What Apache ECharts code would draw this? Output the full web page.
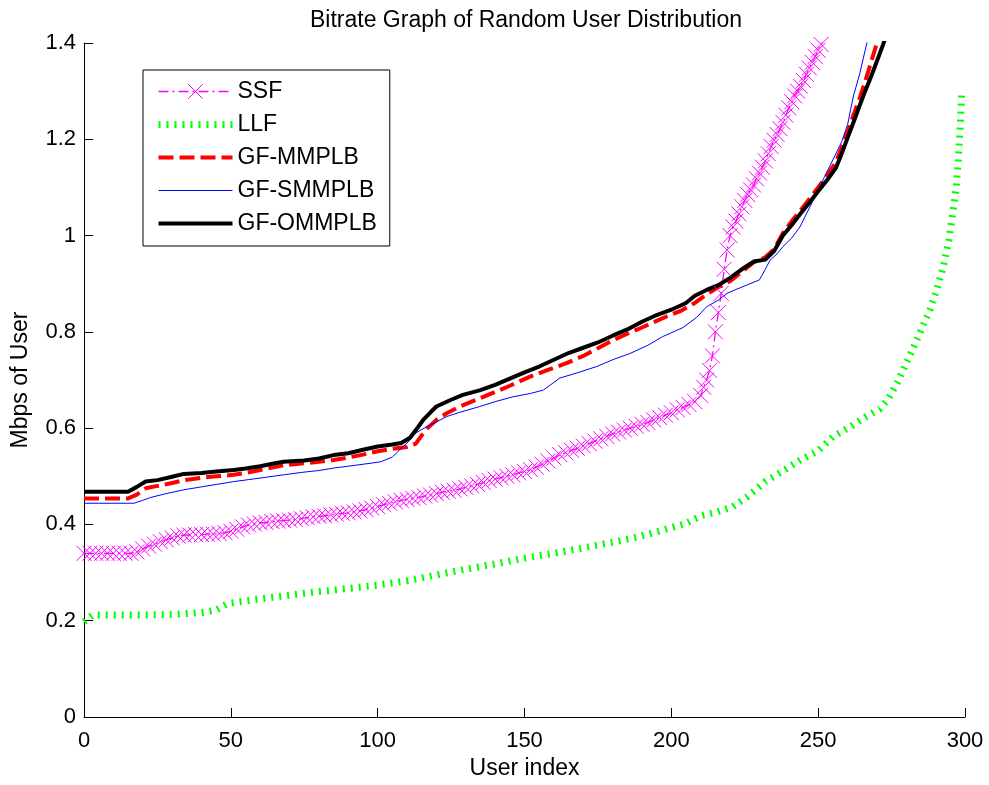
<!DOCTYPE html>
<html><head><meta charset="utf-8">
<script src="https://cdn.jsdelivr.net/npm/echarts@6/dist/echarts.min.js"></script>
<style>html,body{margin:0;padding:0;background:#fff}#c{width:989px;height:785px}</style>
</head><body><div id="c"></div>
<script>
const titleText = 'Bitrate Graph of Random User Distribution';
const xAxisName = 'User index';
const yAxisName = 'Mbps of User';
const seriesNames = ['SSF', 'LLF', 'GF-MMPLB', 'GF-SMMPLB', 'GF-OMMPLB'];
const xTicks = [0, 50, 100, 150, 200, 250, 300];
const yTicks = [0, 0.2, 0.4, 0.6, 0.8, 1, 1.2, 1.4];

// SSF
const ssfX = [0,2,4,6,8,10,12,14,16,18,20,22,24,26,28,30,32,34,36,38,40,42,44,46,48,50,52,54,56,58,60,62,64,66,68,70,72,74,76,78,80,82,84,86,88,90,92,94,96,98,100,102,104,106,108,110,112,114,116,118,120,122,124,126,128,130,132,134,136,138,140,142,144,146,148,150,152,154,156,158,160,162,164,166,168,170,172,174,176,178,180,182,184,186,188,190,192,194,196,198,200,202,204,206,208,210,211,212,213,214,215,216,217,218,219,220,221,222,223,224,225,226,227,228,229,230,231,232,233,234,235,236,237,238,239,240,241,242,243,244,245,246,247,248,249,250,251,252,253,254];
const ssfY = [0.340,0.340,0.340,0.340,0.340,0.340,0.340,0.340,0.340,0.343,0.349,0.355,0.359,0.364,0.368,0.372,0.376,0.378,0.378,0.379,0.379,0.380,0.380,0.381,0.383,0.386,0.390,0.395,0.399,0.401,0.403,0.404,0.406,0.407,0.408,0.409,0.410,0.412,0.414,0.416,0.417,0.418,0.420,0.421,0.423,0.424,0.426,0.428,0.431,0.434,0.437,0.441,0.444,0.447,0.450,0.452,0.454,0.456,0.459,0.461,0.464,0.467,0.469,0.471,0.474,0.477,0.480,0.483,0.487,0.491,0.494,0.497,0.500,0.503,0.507,0.510,0.514,0.519,0.525,0.532,0.538,0.545,0.549,0.554,0.558,0.563,0.568,0.573,0.578,0.583,0.588,0.592,0.596,0.600,0.604,0.608,0.612,0.617,0.622,0.627,0.632,0.638,0.643,0.649,0.655,0.668,0.685,0.700,0.720,0.750,0.800,0.840,0.880,0.930,0.970,1.000,1.018,1.030,1.045,1.060,1.073,1.085,1.095,1.105,1.118,1.130,1.142,1.155,1.170,1.185,1.198,1.210,1.222,1.235,1.250,1.265,1.278,1.290,1.300,1.310,1.322,1.335,1.348,1.360,1.372,1.385,1.397,1.410,1.425,1.440];

// LLF
const llfX = [0,3,10,20,30,40,45,49,55,62,70,79,90,100,110,120,130,140,150,160,169,180,190,197,205,210,215,221,226,232,238,244,250,255,261,266,271,274,277,280,283,285.5,288,290.5,292.6,294.5,296,297,297.7,298.4,298.9];
const llfY = [0.198,0.212,0.212,0.212,0.213,0.217,0.222,0.236,0.241,0.247,0.253,0.260,0.267,0.274,0.283,0.295,0.307,0.318,0.330,0.340,0.350,0.363,0.376,0.388,0.402,0.418,0.425,0.437,0.458,0.489,0.511,0.534,0.553,0.582,0.603,0.623,0.640,0.662,0.695,0.735,0.775,0.810,0.845,0.890,0.935,0.990,1.053,1.100,1.157,1.230,1.302];

// GF-MMPLB
const mmX = [0,5,10,15,18,21,25,30,34,40,45,51,55,60,65,68,75,80,85,90,95,100,105,110,113,115,117,120,123.5,128,134.8,140,145,151.9,158,164.3,170,175,180.2,185,190,198.4,203,208,212,216,220,224,228,232,235,238,241,244,247,250,253,256,258,260,262,264,266,268,270,272];
const mmY = [0.454,0.454,0.454,0.454,0.462,0.475,0.480,0.486,0.492,0.497,0.500,0.503,0.507,0.513,0.519,0.523,0.527,0.530,0.534,0.539,0.545,0.552,0.557,0.561,0.568,0.585,0.600,0.617,0.631,0.645,0.662,0.675,0.688,0.707,0.721,0.735,0.750,0.766,0.783,0.796,0.809,0.832,0.843,0.860,0.878,0.893,0.905,0.925,0.944,0.955,0.972,1.005,1.030,1.052,1.076,1.100,1.125,1.152,1.183,1.215,1.250,1.283,1.320,1.360,1.400,1.440];

// GF-SMMPLB
const smX = [0,5,10,15,17,20,22.7,28,34,40,45,51,56,62,68,74,80,85,90,95,101,105,108,110,113,116.7,120,123.5,128,134.8,140,146,152,156.4,160,162,168,174.6,180,185.9,192,197,204,208.6,212,216,219,222,226,230,232,233.6,236,238,241,243.8,246,249.5,252,255,258,260,262,264.2,266,267,269];
const smY = [0.444,0.444,0.444,0.444,0.444,0.450,0.456,0.464,0.472,0.478,0.483,0.489,0.493,0.498,0.503,0.508,0.512,0.517,0.521,0.525,0.530,0.540,0.558,0.569,0.590,0.603,0.613,0.624,0.633,0.645,0.655,0.665,0.672,0.679,0.695,0.704,0.715,0.728,0.742,0.755,0.772,0.790,0.809,0.830,0.852,0.866,0.880,0.888,0.898,0.908,0.930,0.949,0.962,0.977,0.995,1.018,1.045,1.088,1.120,1.157,1.195,1.230,1.290,1.337,1.385,1.410,1.440];

// GF-OMMPLB
const omX = [0,5,10,15,18,21,25,30,34,40,45,51,55,60,65,68,75,80,85,90,95,100,105,108,111,113,115.5,118,120,125,129,135,140,145,150,155,160,165,170,175,180,185,190,195,200,205,208,212,216,220,224,228,232,235,238,241,244,247,250,253,256,258,260,262,264,266,268,270,272,274,276];
const omY = [0.468,0.468,0.468,0.468,0.478,0.489,0.492,0.499,0.505,0.507,0.510,0.513,0.516,0.521,0.527,0.530,0.533,0.537,0.544,0.548,0.555,0.562,0.566,0.569,0.580,0.596,0.617,0.633,0.645,0.659,0.669,0.679,0.690,0.703,0.716,0.728,0.742,0.756,0.767,0.778,0.792,0.805,0.821,0.835,0.846,0.860,0.875,0.887,0.897,0.912,0.930,0.946,0.950,0.968,1.000,1.022,1.046,1.068,1.092,1.115,1.140,1.170,1.203,1.235,1.268,1.300,1.330,1.362,1.395,1.430,1.470];

const pairs = (xs, ys) => xs.map((x, i) => [x, ys[i]]);
const FONT = 'Arial, "Liberation Sans", sans-serif';
const MAGENTA = 'rgb(255,0,255)';
const hiddenMark = {color: 'rgba(0,0,0,0)', borderColor: 'rgba(0,0,0,0)', borderWidth: 0};

const chart = echarts.init(document.getElementById('c'), null, {renderer: 'canvas'});
chart.setOption({
  animation: false,
  backgroundColor: '#fff',
  title: {
    text: titleText, left: 521, top: 4, textAlign: 'center',
    textStyle: {fontFamily: FONT, fontSize: 23, fontWeight: 'normal', color: '#000'}
  },
  grid: {left: 84, right: 24, top: 43, bottom: 68, containLabel: false},
  legend: {
    orient: 'vertical', left: 143, top: 70,
    padding: [10, 13, 11, 12], itemGap: 10, itemWidth: 74, itemHeight: 18,
    borderColor: '#000', borderWidth: 1, backgroundColor: '#fff',
    textStyle: {fontFamily: FONT, fontSize: 23, color: '#000'},
    data: [
      {name: seriesNames[0], lineStyle: {color: MAGENTA, width: 1.3, type: [10, 4, 2, 4]},
       itemStyle: {color: MAGENTA, borderColor: MAGENTA, borderWidth: 1}},
      {name: seriesNames[1], itemStyle: hiddenMark, lineStyle: {width: 7}},
      {name: seriesNames[2], itemStyle: hiddenMark, lineStyle: {width: 4}},
      {name: seriesNames[3], itemStyle: hiddenMark, lineStyle: {width: 1}},
      {name: seriesNames[4], itemStyle: hiddenMark, lineStyle: {width: 4}}
    ]
  },
  xAxis: {
    type: 'value', min: xTicks[0], max: xTicks[xTicks.length - 1], interval: 50,
    name: xAxisName, nameLocation: 'middle', nameGap: 40,
    nameTextStyle: {fontFamily: FONT, fontSize: 23, color: '#000'},
    axisLine: {lineStyle: {color: '#000', width: 1}},
    axisTick: {inside: true, length: 9, lineStyle: {color: '#000'}},
    axisLabel: {fontFamily: FONT, fontSize: 22, color: '#000', margin: 13},
    splitLine: {show: false}
  },
  yAxis: {
    type: 'value', min: yTicks[0], max: yTicks[yTicks.length - 1], interval: 0.2,
    name: yAxisName, nameLocation: 'middle', nameGap: 52,
    nameTextStyle: {fontFamily: FONT, fontSize: 23, color: '#000'},
    axisLine: {show: true, lineStyle: {color: '#000', width: 1}},
    axisTick: {show: true, inside: true, length: 9, lineStyle: {color: '#000'}},
    axisLabel: {fontFamily: FONT, fontSize: 22, color: '#000', margin: 8},
    splitLine: {show: false}
  },
  series: [
    {
      name: seriesNames[0], type: 'line', data: pairs(ssfX, ssfY), clip: true,
      color: MAGENTA,
      symbol: 'path://M0,0L10,10M10,0L0,10', symbolSize: 15,
      itemStyle: {color: MAGENTA, borderColor: MAGENTA, borderWidth: 1},
      lineStyle: {color: MAGENTA, width: 1.3, type: [10, 4, 2, 4]},
      emphasis: {disabled: true}
    },
    {
      name: seriesNames[1], type: 'line', data: pairs(llfX, llfY), clip: true,
      symbol: 'none', itemStyle: {color: '#00ff00'},
      lineStyle: {color: '#00ff00', width: 7, type: [2, 6], cap: 'butt'},
      emphasis: {disabled: true}
    },
    {
      name: seriesNames[2], type: 'line', data: pairs(mmX, mmY), clip: true,
      symbol: 'none', itemStyle: {color: '#ff0000'},
      lineStyle: {color: '#ff0000', width: 4, type: [15, 6]},
      emphasis: {disabled: true}
    },
    {
      name: seriesNames[3], type: 'line', data: pairs(smX, smY), clip: true,
      symbol: 'none', itemStyle: {color: '#0000ff'},
      lineStyle: {color: '#0000ff', width: 1},
      emphasis: {disabled: true}
    },
    {
      name: seriesNames[4], type: 'line', data: pairs(omX, omY), clip: true,
      symbol: 'none', itemStyle: {color: '#000000'},
      lineStyle: {color: '#000000', width: 4},
      emphasis: {disabled: true}
    }
  ]
});
</script></body></html>
